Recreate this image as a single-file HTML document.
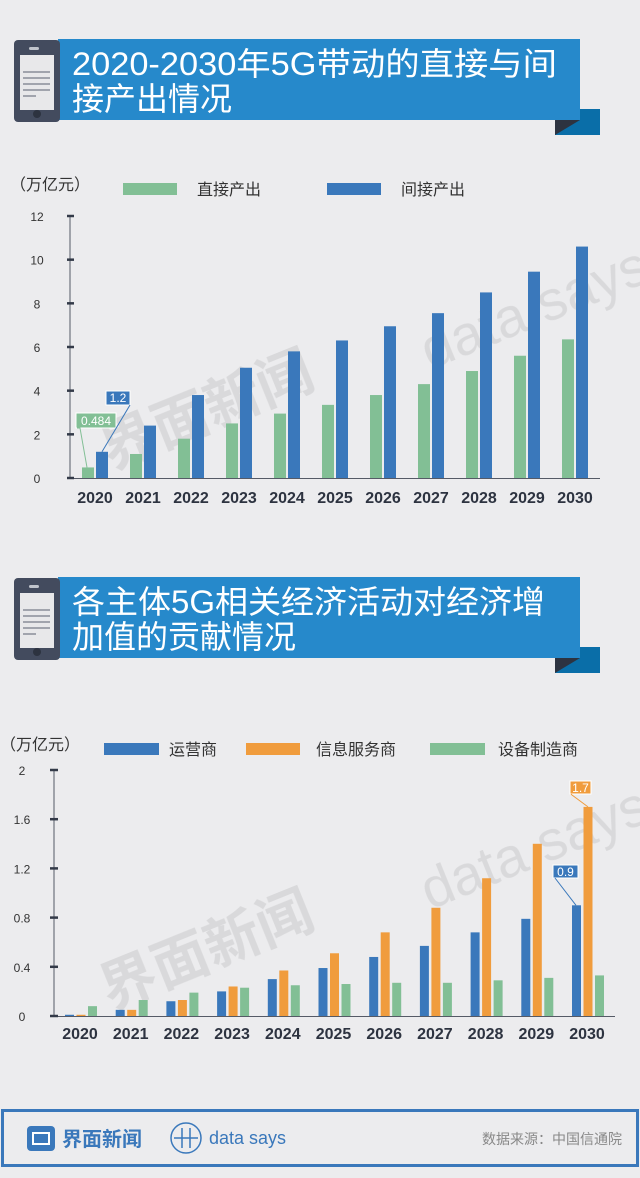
<!DOCTYPE html>
<html><head><meta charset="utf-8">
<style>
body{margin:0;background:#ececee;font-family:"Liberation Sans","Noto Sans CJK SC",sans-serif;}
#root{position:relative;width:640px;height:1178px;overflow:hidden;background:#ececee;}
svg{position:absolute;left:0;top:0;}
</style></head>
<body><div id="root">
<svg id="s" width="640" height="1178" viewBox="0 0 640 1178">
  <g>
    <rect x="555" y="109" width="45" height="26" fill="#0a6ea8"/>
    <polygon points="555,120 580,120 555,135" fill="#2d3340"/>
    <rect x="58" y="39" width="522" height="81" fill="#2689cb"/>
    <rect x="14" y="40" width="46" height="82" rx="4" fill="#434b5e"/>
    <rect x="20" y="55" width="34" height="55" fill="#e8e8ea"/>
    <rect x="29" y="47" width="10" height="3" rx="1.5" fill="#c0c4cc"/>
    <g stroke="#5a6070" stroke-width="1"><line x1="23" y1="72" x2="50" y2="72"/><line x1="23" y1="78" x2="50" y2="78"/><line x1="23" y1="84" x2="50" y2="84"/><line x1="23" y1="90" x2="50" y2="90"/><line x1="23" y1="96" x2="36" y2="96"/></g>
    <circle cx="37" cy="114" r="4" fill="#2d3340"/>
    <text x="72" y="75" font-size="32" fill="#fff" textLength="485" lengthAdjust="spacingAndGlyphs">2020-2030年5G带动的直接与间</text>
    <text x="72" y="110" font-size="32" fill="#fff">接产出情况</text>
  </g>
  <g transform="translate(0,538)">
    <rect x="555" y="109" width="45" height="26" fill="#0a6ea8"/>
    <polygon points="555,120 580,120 555,135" fill="#2d3340"/>
    <rect x="58" y="39" width="522" height="81" fill="#2689cb"/>
    <rect x="14" y="40" width="46" height="82" rx="4" fill="#434b5e"/>
    <rect x="20" y="55" width="34" height="55" fill="#e8e8ea"/>
    <rect x="29" y="47" width="10" height="3" rx="1.5" fill="#c0c4cc"/>
    <g stroke="#5a6070" stroke-width="1"><line x1="23" y1="72" x2="50" y2="72"/><line x1="23" y1="78" x2="50" y2="78"/><line x1="23" y1="84" x2="50" y2="84"/><line x1="23" y1="90" x2="50" y2="90"/><line x1="23" y1="96" x2="36" y2="96"/></g>
    <circle cx="37" cy="114" r="4" fill="#2d3340"/>
    <text x="72" y="75" font-size="32" fill="#fff" textLength="473" lengthAdjust="spacingAndGlyphs">各主体5G相关经济活动对经济增</text>
    <text x="72" y="110" font-size="32" fill="#fff">加值的贡献情况</text>
  </g>
  <g opacity="0.08" fill="#000">
    <text x="110" y="470" font-size="56" font-weight="bold" transform="rotate(-22 110 470)">界面新闻</text>
    <text x="430" y="370" font-size="56" transform="rotate(-22 430 370)">data says</text>
    <text x="110" y="1010" font-size="56" font-weight="bold" transform="rotate(-22 110 1010)">界面新闻</text>
    <text x="430" y="910" font-size="56" transform="rotate(-22 430 910)">data says</text>
  </g>
  <g id="c1"></g>
  <g id="c2"></g>
  <g>
    <rect x="2.5" y="1110.5" width="635" height="55" fill="none" stroke="#3a78bb" stroke-width="3"/>
    <rect x="27" y="1126" width="28" height="25" rx="4" fill="#3a78bb"/>
    <rect x="33" y="1133" width="16" height="11" fill="none" stroke="#fff" stroke-width="2"/>
    <text x="62" y="1146" font-size="20" font-weight="bold" fill="#3a78bb">界面新闻</text>
    <circle cx="186" cy="1138" r="15" fill="none" stroke="#3a78bb" stroke-width="1.5"/>
    <g stroke="#3a78bb" stroke-width="1.5"><line x1="182" y1="1128" x2="182" y2="1148"/><line x1="190" y1="1128" x2="190" y2="1148"/><line x1="174" y1="1138" x2="198" y2="1138"/></g>
    <text x="209" y="1144" font-size="18" fill="#3a78bb">data says</text>
    <text x="622" y="1144" font-size="14" fill="#888" text-anchor="end">数据来源：中国信通院</text>
  </g>
</svg>
</div>
<script>
const NS="http://www.w3.org/2000/svg";
const years1=["2020","2021","2022","2023","2024","2025","2026","2027","2028","2029","2030"];
const direct1=[0.484,1.1,1.8,2.5,2.95,3.35,3.8,4.3,4.9,5.6,6.35];
const indirect1=[1.2,2.4,3.8,5.05,5.8,6.3,6.95,7.55,8.5,9.45,10.6];
const ticks1=[0,2,4,6,8,10,12];
const years2=["2020","2021","2022","2023","2024","2025","2026","2027","2028","2029","2030"];
const operator2=[0.01,0.05,0.12,0.2,0.3,0.39,0.48,0.57,0.68,0.79,0.9];
const infoSvc2=[0.01,0.05,0.13,0.24,0.37,0.51,0.68,0.88,1.12,1.4,1.7];
const equip2=[0.08,0.13,0.19,0.23,0.25,0.26,0.27,0.27,0.29,0.31,0.33];
const ticks2=[0,0.4,0.8,1.2,1.6,2];
const ticks2Labels=["0","0.4","0.8","1.2","1.6","2"];
const GREEN="#82bf95",BLUE="#3a78bb",ORANGE="#f09c3d";
function mk(tag,attrs,parent,txt){const e=document.createElementNS(NS,tag);for(const k in attrs)e.setAttribute(k,attrs[k]);if(txt!==undefined)e.textContent=txt;parent.appendChild(e);return e;}

const g1=document.getElementById('c1');
const y1=v=>478-v*(262/12);
const x1=i=>82+i*48;
mk('line',{x1:70,y1:216,x2:70,y2:479,stroke:'#555a66','stroke-width':1},g1);
mk('line',{x1:70,y1:478.5,x2:600,y2:478.5,stroke:'#555a66','stroke-width':1},g1);
ticks1.forEach(t=>{
  const tl=mk('line',{x1:67,x2:74,y1:y1(t),y2:y1(t),stroke:'#333a48','stroke-width':2.5},g1);
  
  
  const tx=mk('text',{x:37,y:y1(t)+5,'font-size':12,fill:'#333','text-anchor':'middle'},g1,String(t));
  
  
});
years1.forEach((yr,i)=>{
  const a=mk('rect',{x:x1(i),y:y1(direct1[i]),width:12,height:478-y1(direct1[i]),fill:GREEN},g1);
  
  
  const b=mk('rect',{x:x1(i)+14,y:y1(indirect1[i]),width:12,height:478-y1(indirect1[i]),fill:BLUE},g1);
  
  
  const t=mk('text',{x:x1(i)+13,y:503,'font-size':16,'font-weight':'bold',fill:'#2d3340','text-anchor':'middle'},g1,yr);
  
  
});
mk('text',{x:10,y:190,'font-size':16,fill:'#333'},g1,'（万亿元）');
mk('rect',{x:123,y:183,width:54,height:12,fill:GREEN},g1);
mk('text',{x:197,y:195,'font-size':16,fill:'#333'},g1,'直接产出');
mk('rect',{x:327,y:183,width:54,height:12,fill:BLUE},g1);
mk('text',{x:401,y:195,'font-size':16,fill:'#333'},g1,'间接产出');
mk('rect',{x:76,y:413,width:40,height:15,fill:GREEN,stroke:'#fff','stroke-width':1},g1);
mk('text',{x:96,y:425,'font-size':12,fill:'#fff','text-anchor':'middle'},g1,String(direct1[0]));
mk('polyline',{points:`77,428 80,428 ${x1(0)+5},${y1(direct1[0])}`,fill:'none',stroke:GREEN},g1);
mk('rect',{x:106,y:391,width:24,height:14,fill:BLUE,stroke:'#fff','stroke-width':1},g1);
mk('text',{x:118,y:402,'font-size':12,fill:'#fff','text-anchor':'middle'},g1,String(indirect1[0]));
mk('line',{x1:130,y1:405,x2:x1(0)+20,y2:y1(indirect1[0]),stroke:BLUE},g1);

const g2=document.getElementById('c2');
const y2=v=>1016-v*123;
const x2=i=>65+i*50.7;
mk('line',{x1:54,y1:770,x2:54,y2:1017,stroke:'#555a66','stroke-width':1},g2);
mk('line',{x1:54,y1:1016.5,x2:615,y2:1016.5,stroke:'#555a66','stroke-width':1},g2);
ticks2.forEach((t,k)=>{
  const tl=mk('line',{x1:50,x2:58,y1:y2(t),y2:y2(t),stroke:'#333a48','stroke-width':2.5},g2);
  
  
  const tx=mk('text',{x:22,y:y2(t)+5,'font-size':12,fill:'#333','text-anchor':'middle'},g2,ticks2Labels[k]);
  
  
});
years2.forEach((yr,i)=>{
  const a=mk('rect',{x:x2(i),y:y2(operator2[i]),width:9,height:1016-y2(operator2[i]),fill:BLUE},g2);
  
  
  const b=mk('rect',{x:x2(i)+11.5,y:y2(infoSvc2[i]),width:9,height:1016-y2(infoSvc2[i]),fill:ORANGE},g2);
  
  
  const c=mk('rect',{x:x2(i)+23,y:y2(equip2[i]),width:9,height:1016-y2(equip2[i]),fill:GREEN},g2);
  
  
  const t=mk('text',{x:x2(i)+15,y:1039,'font-size':16,'font-weight':'bold',fill:'#2d3340','text-anchor':'middle'},g2,yr);
  
  
});
mk('text',{x:0,y:750,'font-size':16,fill:'#333'},g2,'（万亿元）');
mk('rect',{x:104,y:743,width:55,height:12,fill:BLUE},g2);
mk('text',{x:169,y:755,'font-size':16,fill:'#333'},g2,'运营商');
mk('rect',{x:246,y:743,width:54,height:12,fill:ORANGE},g2);
mk('text',{x:316,y:755,'font-size':16,fill:'#333'},g2,'信息服务商');
mk('rect',{x:430,y:743,width:55,height:12,fill:GREEN},g2);
mk('text',{x:498,y:755,'font-size':16,fill:'#333'},g2,'设备制造商');
mk('rect',{x:553,y:865,width:25,height:13,fill:BLUE,stroke:'#fff','stroke-width':1},g2);
mk('text',{x:565.5,y:876,'font-size':12,fill:'#fff','text-anchor':'middle'},g2,String(operator2[10]));
mk('line',{x1:555,y1:878,x2:x2(10)+4,y2:y2(operator2[10]),stroke:BLUE},g2);
mk('rect',{x:570,y:781,width:21,height:13,fill:ORANGE,stroke:'#fff','stroke-width':1},g2);
mk('text',{x:580.5,y:792,'font-size':12,fill:'#fff','text-anchor':'middle'},g2,String(infoSvc2[10]));
mk('polyline',{points:`571,794 572,795 ${x2(10)+16},${y2(infoSvc2[10])}`,fill:'none',stroke:ORANGE},g2);
</script>
</body></html>
